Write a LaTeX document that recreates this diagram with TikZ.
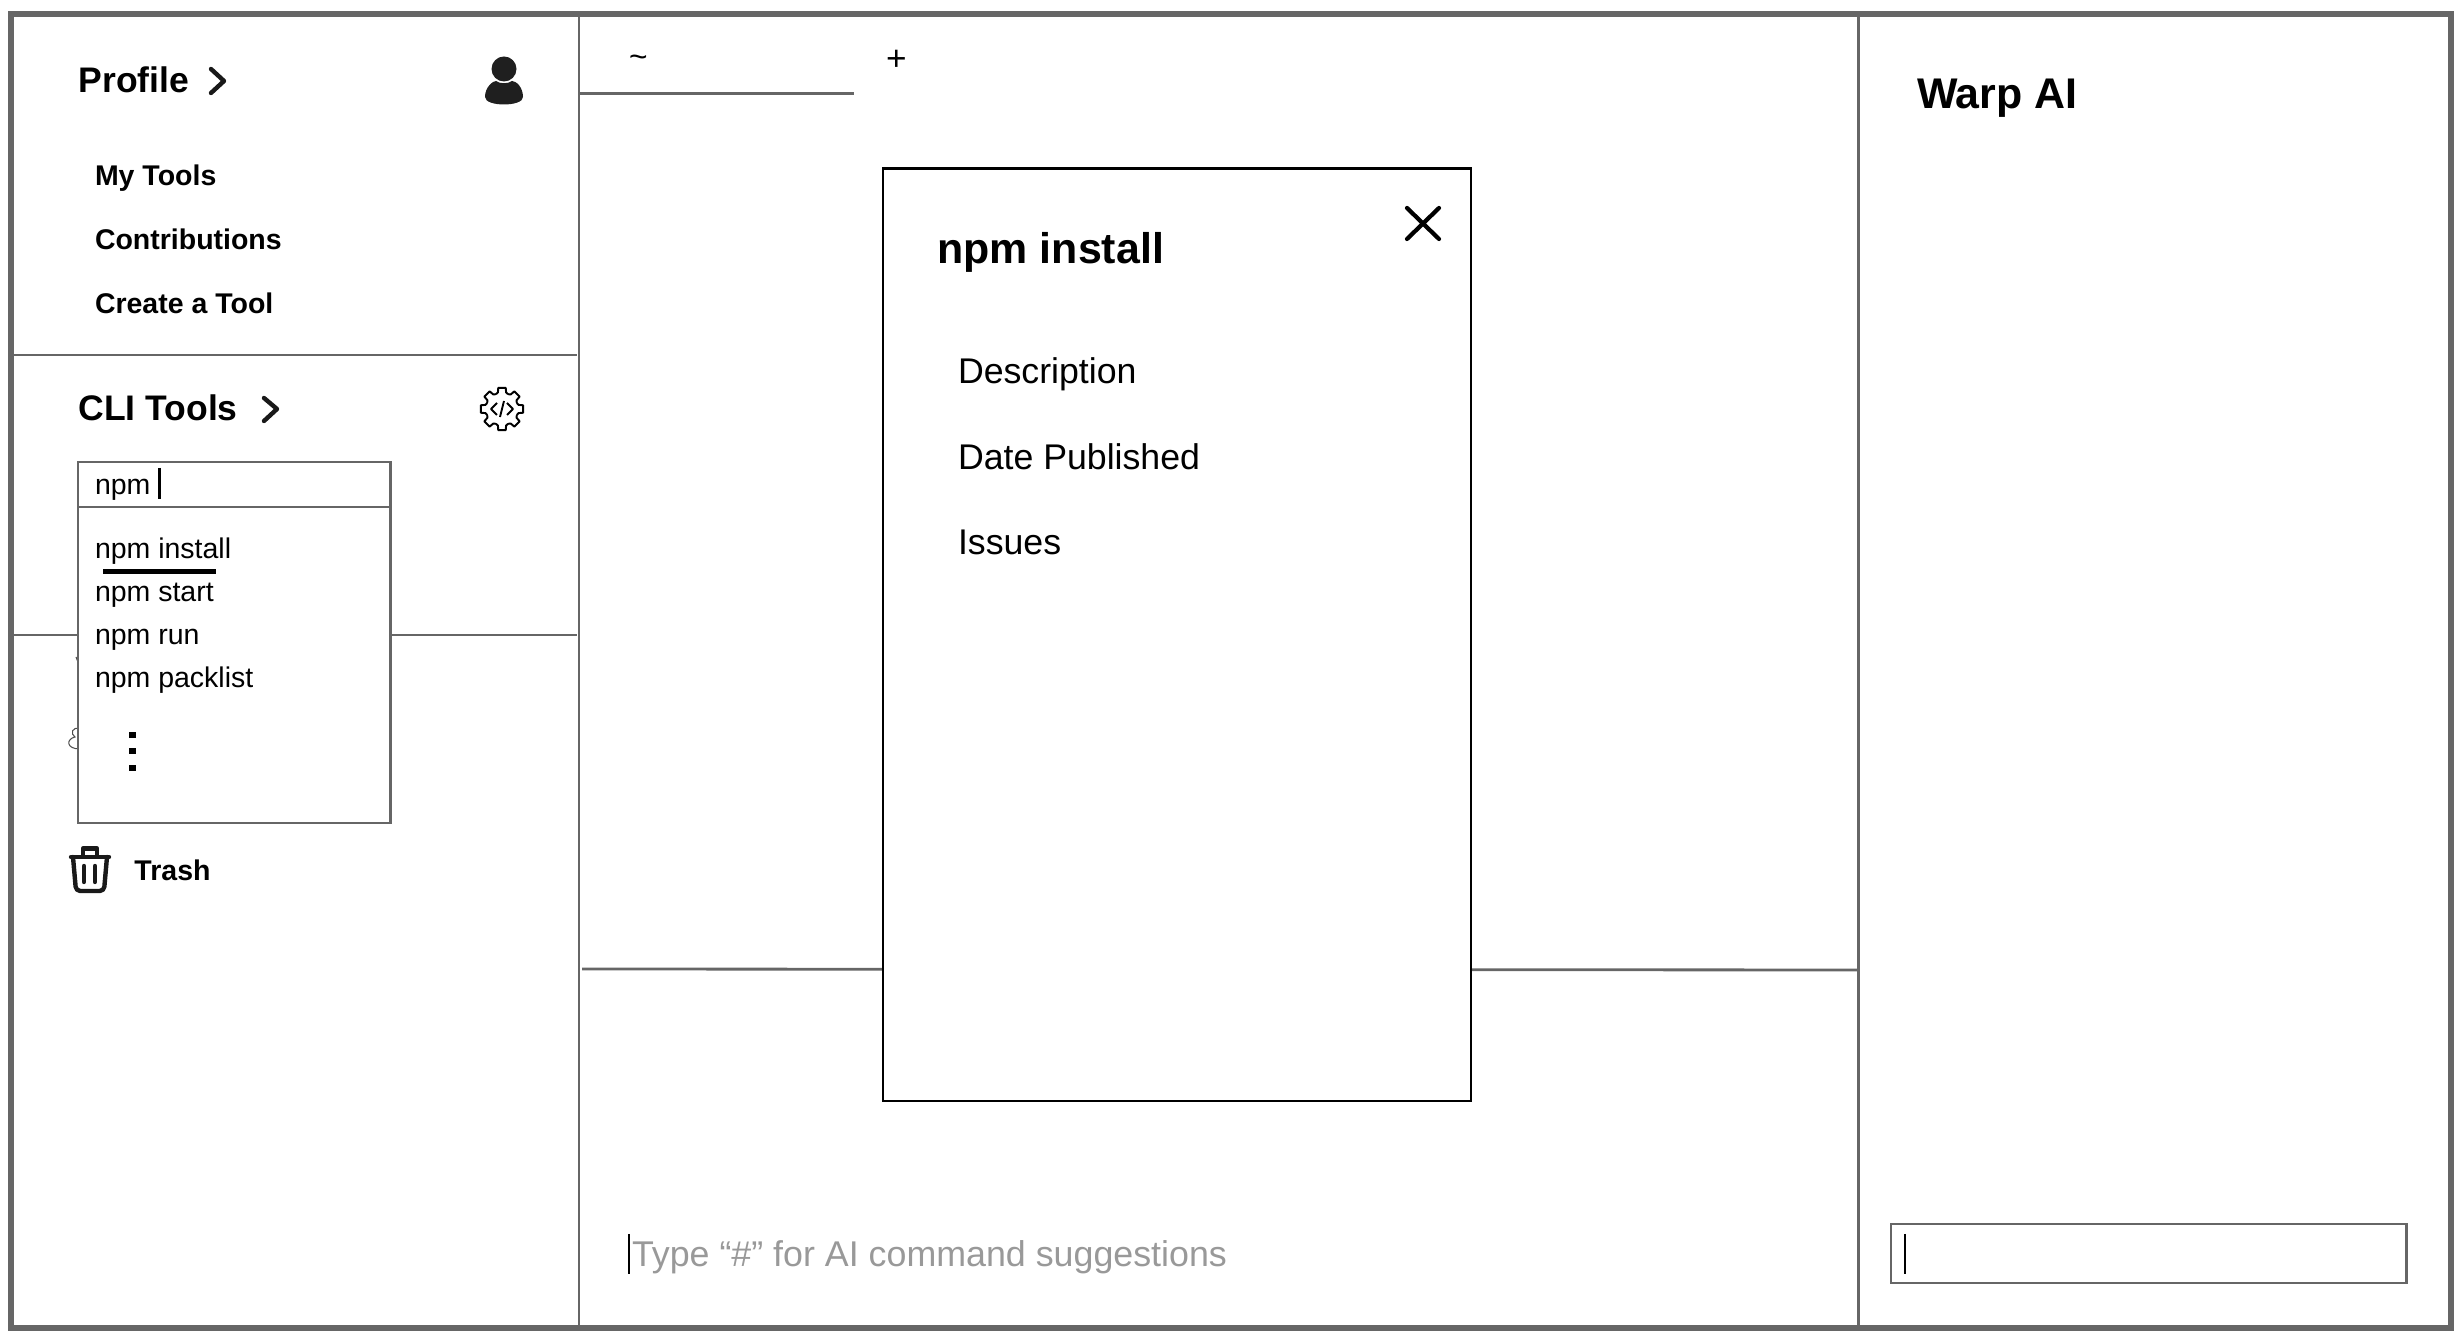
\documentclass[tikz,border=0pt]{standalone}
\usepackage{fontspec}
\setmainfont{Liberation Sans}
\usetikzlibrary{positioning}
\definecolor{wireline}{HTML}{666666}
\definecolor{hinttext}{HTML}{999999}

\begin{document}
\begin{tikzpicture}[
		x=0.01cm, y=-0.01cm,
		frameline/.style={draw=wireline, line width=1.6pt, line join=miter},
		wire/.style={draw=wireline, line width=0.8pt},
		panelbox/.style={wire, fill=white},
		modalbox/.style={draw=black, line width=0.8pt, fill=white},
		caretline/.style={draw=black, line width=0.65pt},
		iconline/.style={draw=black!90, line width=1.25pt, line cap=round, line join=round},
		label/.style={anchor=base west, inner sep=0pt, outer sep=0pt},
		headlabel/.style={label, font=\fontsize{10.1}{12}\selectfont\bfseries},
		itemlabel/.style={label, font=\fontsize{8.1}{10}\selectfont\bfseries},
		listlabel/.style={label, font=\fontsize{8.1}{10}\selectfont},
		titlelabel/.style={label, font=\fontsize{12.2}{14}\selectfont\bfseries},
		infolabel/.style={label, font=\fontsize{10.15}{12}\selectfont},
	]
	\useasboundingbox (0,0) rectangle (2462,1334);

	% window
	\draw[frameline] (11,14) rectangle (2451,1328);
	\draw[wire] (579,14) -- (579,1326);
	\draw[wire] (1858.5,14) -- (1858.5,1326);
	\draw[wire] (13,355) -- (577,355);
	\draw[wire] (13,635) -- (577,635);
	\draw[wire] (580,93.5) -- (854,93.5);
	\draw[wire] (582,969) -- (1858,970);

	% sidebar
	\node[headlabel] (profile) at (78.5,93) {Profile};
	\draw[iconline] (211,69) -- (224,81) -- (211,93);
	\node[itemlabel] (mytools) at (95,186) {My Tools};
	\node[itemlabel] (contrib) at (95,250) {Contributions};
	\node[itemlabel] (createtool) at (95,314) {Create a Tool};
	\node[headlabel] (clitools) at (78.5,421) {CLI Tools};
	\draw[iconline] (264,398) -- (277,409) -- (264,421);

	% person icon
	\fill[black!88] (504,69) circle (12.5);
	\fill[black!88] (485,97) .. controls (485,87) and (493,81) .. (496,81)
		.. controls (500,84) and (508,84) .. (512,81)
		.. controls (516,81) and (523,87) .. (523,97)
		.. controls (523,107) and (485,107) .. (485,97) -- cycle;

	% gear icon
	\begin{scope}[shift={(502,409)}]
		\foreach \ang in {0,45,...,315} {
			\draw[draw=black, line width=0.55pt, line join=round]
				(\ang-22.5:16) -- (\ang-14:17) -- (\ang-10:21.5) -- (\ang+10:21.5) -- (\ang+14:17) -- (\ang+22.5:16);
		}
		\draw[draw=black, line width=0.55pt, line join=round] (-5,-6) -- (-11,0) -- (-5,6);
		\draw[draw=black, line width=0.55pt, line join=round] (5,-6) -- (11,0) -- (5,6);
		\draw[draw=black, line width=0.55pt] (2,-8) -- (-2,8);
	\end{scope}

	% icon fragments behind the dropdown
	\draw[draw=black!70, line width=0.3pt] (76,657) -- (78,662);
	\draw[draw=black!70, line width=0.3pt] (80,729) .. controls (72,726) and (70,734) .. (75,737)
		.. controls (66,739) and (66,749) .. (80,749);

	% dropdown
	\draw[panelbox] (78,462) rectangle (390.5,823);
	\draw[wire] (78,507) -- (390.5,507);
	\node[listlabel] (searchtext) at (95,494.5) {npm};
	\draw[caretline] (159.6,468) -- (159.6,499);
	\node[listlabel] (npminstall) at (95,558.5) {npm install};
	\draw[draw=black, line width=1.6pt] (103,571.5) -- (216,571.5);
	\node[listlabel] (npmstart) at (95,602) {npm start};
	\node[listlabel] (npmrun) at (95,645) {npm run};
	\node[listlabel] (npmpack) at (95,688) {npm packlist};
	\foreach \dy in {735,751,768} {
		\fill[black] (128.5,\dy-3) rectangle (135.5,\dy+3);
	}

	% trash
	\draw[iconline] (71,857) -- (109,857);
	\draw[iconline] (83,856) -- (83,848.5) -- (97,848.5) -- (97,856);
	\draw[iconline, rounded corners=1.2pt] (73,857) -- (76,891) -- (104,891) -- (107,857);
	\draw[iconline] (84,866) -- (84,882);
	\draw[iconline] (95,866) -- (95,882);
	\node[itemlabel] (trash) at (134.5,880.5) {Trash};

	% tabs
	\node[label, font=\fontsize{9}{10}\selectfont] (tabhome) at (629,68) {\textasciitilde};
	\node[label, font=\fontsize{10}{12}\selectfont] (tabplus) at (886,71) {+};

	% modal
	\draw[modalbox] (883,168.5) rectangle (1471,1101);
	\node[titlelabel] (modaltitle) at (937.5,264) {npm install};
	\draw[draw=black, line width=1.2pt, line cap=round] (1407,208) -- (1439,239);
	\draw[draw=black, line width=1.2pt, line cap=round] (1439,208) -- (1407,239);
	\node[infolabel] (description) at (958,384) {Description};
	\node[infolabel] (published) at (958,470) {Date Published};
	\node[infolabel] (issues) at (958,555) {Issues};

	% prompt
	\draw[caretline] (629,1234) -- (629,1274);
	\node[infolabel, text=hinttext, font=\fontsize{10.18}{12}\selectfont] (prompt) at (632,1267) {Type “\#” for AI command suggestions};

	% assistant
	\node[titlelabel] (warp) at (1917,108.5) {Warp AI};
	\draw[wire] (1891,1224) rectangle (2406.5,1283);
	\draw[caretline] (1905,1234) -- (1905,1274);
\end{tikzpicture}
\end{document}
